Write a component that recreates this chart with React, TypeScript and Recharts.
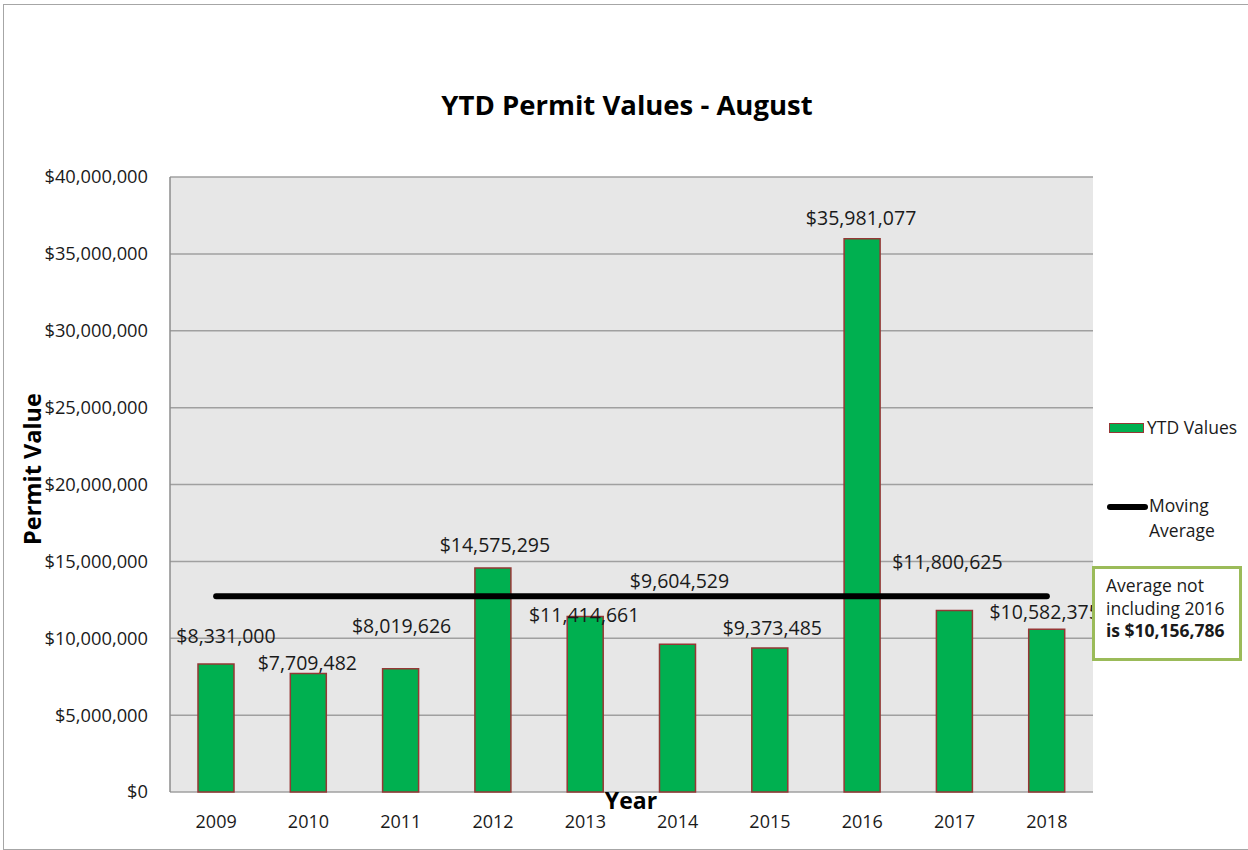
import React from "react";
import {
  ComposedChart,
  Bar,
  Line,
  XAxis,
  YAxis,
  CartesianGrid,
  LabelList,
} from "recharts";

const years = ["2009", "2010", "2011", "2012", "2013", "2014", "2015", "2016", "2017", "2018"];
const ytdValues = [
  8331000, 7709482, 8019626, 14575295, 11414661, 9604529, 9373485, 35981077, 11800625, 10582375,
];
// moving average drawn flat across all years
const movingAverage = [
  12739178, 12739178, 12739178, 12739178, 12739178, 12739178, 12739178, 12739178, 12739178, 12739178,
];
const yTicks = [0, 5000000, 10000000, 15000000, 20000000, 25000000, 30000000, 35000000, 40000000];
const boundaryTicks = [0, 1, 2, 3, 4, 5, 6, 7, 8, 9, 10];

// hand placed data labels (Excel style), offset from bar top centre
const labelOffsets = [
  [10, -28], [-1, -11], [1, -43], [2, -23], [-1, -2],
  [2, -64], [2.5, -20], [-1, -21], [-7, -49], [-2, -18],
];

const data = years.map((year, i) => ({
  year,
  ytd: ytdValues[i],
  avg: movingAverage[i],
}));

const FONT = "'Open Sans', sans-serif";
const money = (v: number) => "$" + v.toLocaleString("en-US");

const BarLabel = (props: any) => {
  const { x, y, width, value, index } = props;
  const [dx, dy] = labelOffsets[index] || [0, -10];
  return (
    <text
      x={x + width / 2 + dx}
      y={y + dy}
      textAnchor="middle"
      dominantBaseline="central"
      fontFamily={FONT}
      fontSize={19.5}
      fill="#1a1a1a"
    >
      {money(value)}
    </text>
  );
};

export default function App() {
  return (
    <div
      style={{
        position: "absolute",
        left: 0,
        top: 0,
        width: 1248,
        height: 850,
        overflow: "hidden",
        background: "#fff",
        fontFamily: FONT,
      }}
    >
      <div
        style={{
          position: "absolute",
          left: 3,
          top: 4,
          width: 1300,
          height: 844,
          border: "1.5px solid #a6a6a6",
        }}
      />
      <div
        style={{
          position: "absolute",
          left: 627,
          top: 104,
          transform: "translate(-50%, -50%)",
          whiteSpace: "nowrap",
          fontSize: 27.5,
          fontWeight: 700,
          color: "#000",
        }}
      >
        YTD Permit Values - August
      </div>
      <div
        style={{
          position: "absolute",
          left: 32,
          top: 469,
          transform: "translate(-50%, -50%) rotate(-90deg)",
          whiteSpace: "nowrap",
          fontSize: 23.5,
          fontWeight: 700,
        }}
      >
        Permit Value
      </div>

      <div style={{ position: "absolute", left: 0, top: 0 }}>
        <ComposedChart
          width={1248}
          height={850}
          data={data}
          margin={{ top: 177, right: 155, left: 50, bottom: 8 }}
          barCategoryGap={0}
        >
          <CartesianGrid vertical={false} stroke="#a0a0a0" strokeWidth={1.5} fill="#e7e7e7" />
          <XAxis
            xAxisId="edge"
            type="number"
            domain={[0, 10]}
            ticks={boundaryTicks}
            tick={false}
            tickSize={8}
            height={0}
            axisLine={{ stroke: "#8c8c8c", strokeWidth: 1.5 }}
            tickLine={{ stroke: "#8c8c8c", strokeWidth: 1.5 }}
          />
          <XAxis
            dataKey="year"
            axisLine={false}
            tickLine={false}
            tickSize={0}
            tickMargin={23}
            height={50}
            tick={{ fontFamily: FONT, fontSize: 18, fill: "#1a1a1a" }}
          />
          <YAxis
            domain={[0, 40000000]}
            ticks={yTicks}
            width={120}
            tickSize={0}
            tickMargin={22}
            tickLine={false}
            axisLine={{ stroke: "#8c8c8c", strokeWidth: 1.5 }}
            tickFormatter={money}
            tick={{ fontFamily: FONT, fontSize: 18.3, fill: "#1a1a1a" }}
          />
          <Bar
            dataKey="ytd"
            barSize={36}
            fill="#00b050"
            stroke="#953735"
            strokeWidth={1.5}
            isAnimationActive={false}
          >
            <LabelList dataKey="ytd" content={BarLabel} />
          </Bar>
          <Line
            dataKey="avg"
            stroke="#000"
            strokeWidth={6}
            strokeLinecap="round"
            dot={false}
            activeDot={false}
            isAnimationActive={false}
          />
        </ComposedChart>
      </div>

      <div
        style={{
          position: "absolute",
          left: 631,
          top: 800,
          transform: "translate(-50%, -50%)",
          fontSize: 23,
          fontWeight: 700,
        }}
      >
        Year
      </div>

      {/* legend */}
      <div
        style={{
          position: "absolute",
          left: 1109,
          top: 423,
          width: 33,
          height: 8,
          background: "#00b050",
          border: "1.5px solid #953735",
        }}
      />
      <div style={{ position: "absolute", left: 1147, top: 415, fontSize: 17.5, color: "#1a1a1a" }}>
        YTD Values
      </div>
      <div
        style={{
          position: "absolute",
          left: 1107,
          top: 504,
          width: 41,
          height: 6,
          borderRadius: 3,
          background: "#000",
        }}
      />
      <div
        style={{
          position: "absolute",
          left: 1149,
          top: 493,
          fontSize: 17.5,
          lineHeight: "25px",
          color: "#1a1a1a",
        }}
      >
        Moving
        <br />
        Average
      </div>

      {/* annotation box */}
      <div
        style={{
          position: "absolute",
          left: 1092,
          top: 566,
          width: 133,
          height: 84,
          background: "#fff",
          border: "3px solid #9bbb59",
          padding: "5px 0 0 11px",
          boxSizing: "content-box",
          fontSize: 17.5,
          lineHeight: "22.5px",
          color: "#1a1a1a",
          whiteSpace: "nowrap",
          overflow: "hidden",
        }}
      >
        Average not
        <br />
        including 2016
        <br />
        <b>is $10,156,786</b>
      </div>
    </div>
  );
}
